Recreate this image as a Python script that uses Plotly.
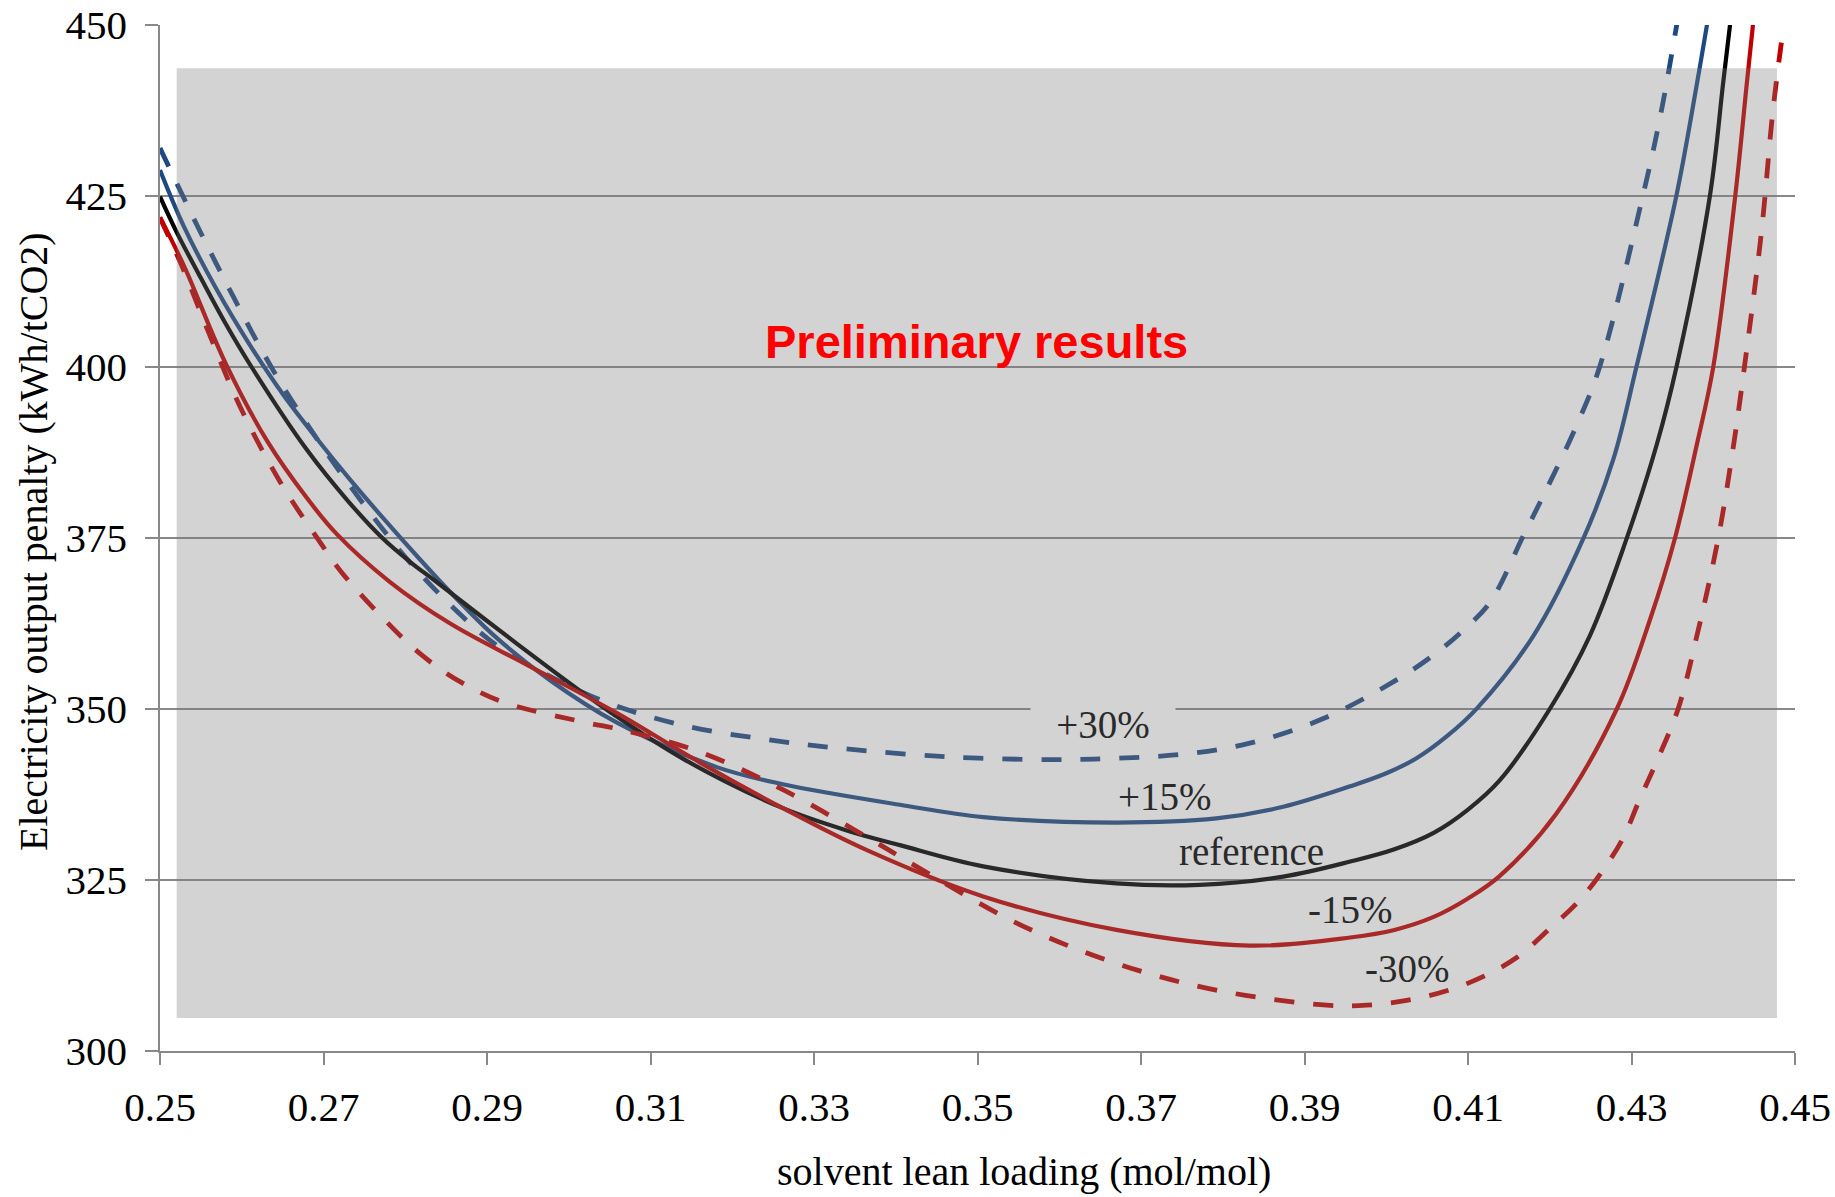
import plotly.graph_objects as go

# ---- data -------------------------------------------------------------
x_ticks = [0.25, 0.27, 0.29, 0.31, 0.33, 0.35, 0.37, 0.39, 0.41, 0.43, 0.45]
x_tick_labels = ["0.25", "0.27", "0.29", "0.31", "0.33", "0.35", "0.37", "0.39", "0.41", "0.43", "0.45"]
y_ticks = [300, 325, 350, 375, 400, 425, 450]

# reference case
ref_x = [0.2500, 0.2520, 0.2550, 0.2580, 0.2612, 0.2679, 0.2730, 0.2772, 0.2805, 0.2838,
         0.2936, 0.3018, 0.3050, 0.3140, 0.3262, 0.3344, 0.3405, 0.3507, 0.3670, 0.3772,
         0.3874, 0.3956, 0.4010, 0.4058, 0.4100, 0.4139, 0.4200, 0.4249, 0.4294, 0.4331,
         0.4355, 0.4396, 0.4412, 0.4421]
ref_y = [424.9, 419.8, 413.0, 406.4, 400.0, 388.0, 380.4, 375.0, 371.6, 368.6,
         359.6, 352.3, 349.6, 342.7, 335.5, 332.1, 330.1, 327.0, 324.5, 324.3,
         325.5, 327.7, 329.5, 331.9, 335.3, 339.6, 350.0, 360.7, 374.9, 388.7,
         400.0, 425.1, 441.4, 450.5]

# +15 %
p15_x = [0.2500, 0.2529, 0.2569, 0.2610, 0.2651, 0.2692, 0.2732, 0.2773, 0.2814, 0.2855,
         0.2908, 0.2977, 0.3059, 0.3181, 0.3262, 0.3405, 0.3507, 0.3670, 0.3792, 0.3874,
         0.3956, 0.4000, 0.4037, 0.4075, 0.4111, 0.4180, 0.4241, 0.4278, 0.4306, 0.4355,
         0.4380, 0.4393]
p15_y = [428.8, 420.6, 411.4, 403.2, 395.9, 389.5, 383.6, 377.9, 372.4, 367.1,
         360.8, 354.2, 348.0, 341.5, 339.0, 336.0, 334.2, 333.4, 334.0, 335.7,
         338.7, 340.6, 342.8, 346.1, 350.1, 360.7, 374.9, 386.6, 400.0, 425.1,
         441.4, 450.5]

# +30 %
p30_x = [0.2500, 0.2545, 0.2590, 0.2639, 0.2692, 0.2745, 0.2806, 0.2871, 0.2912, 0.2980,
         0.3050, 0.3140, 0.3238, 0.3336, 0.3466, 0.3589, 0.3670, 0.3752, 0.3833, 0.3923,
         0.4009, 0.4058, 0.4095, 0.4127, 0.4168, 0.4200, 0.4233, 0.4261, 0.4314, 0.4335,
         0.4356]
p30_y = [432.0, 420.8, 410.2, 399.4, 389.5, 380.6, 371.4, 363.4, 359.3, 354.6,
         350.8, 347.6, 345.6, 344.2, 343.0, 342.6, 342.8, 343.4, 345.0, 348.6,
         354.0, 357.9, 361.6, 365.6, 375.4, 383.1, 391.5, 400.0, 425.1, 436.5,
         450.5]

# -15 %
m15_x = [0.2500, 0.2530, 0.2580, 0.2631, 0.2680, 0.2716, 0.2781, 0.2855, 0.2953, 0.3059,
         0.3160, 0.3262, 0.3364, 0.3507, 0.3670, 0.3833, 0.3956, 0.4010, 0.4058, 0.4100,
         0.4139, 0.4208, 0.4282, 0.4323, 0.4353, 0.4380, 0.4400, 0.4427, 0.4441, 0.4449]
m15_y = [421.9, 414.6, 400.6, 389.2, 380.8, 375.6, 368.6, 362.5, 356.2, 349.4,
         342.2, 335.5, 329.4, 322.6, 317.7, 315.4, 316.6, 317.7, 319.6, 322.3,
         325.6, 334.7, 350.0, 363.2, 374.9, 388.7, 400.0, 425.1, 441.4, 450.5]

# -30 %
m30_x = [0.2500, 0.2526, 0.2559, 0.2598, 0.2647, 0.2698, 0.2722, 0.2775, 0.2820, 0.2867,
         0.2920, 0.3018, 0.3067, 0.3161, 0.3262, 0.3377, 0.3425, 0.3548, 0.3670, 0.3792,
         0.3927, 0.3976, 0.4025, 0.4074, 0.4119, 0.4160, 0.4200, 0.4237, 0.4266, 0.4290,
         0.4310, 0.4331, 0.4357, 0.4380, 0.4406, 0.4425, 0.4437, 0.4459, 0.4473, 0.4486]
m30_y = [421.8, 415.0, 405.2, 394.2, 383.2, 374.0, 370.0, 363.0, 357.9, 354.0,
         351.0, 348.1, 346.9, 343.7, 338.2, 330.4, 327.0, 318.7, 312.8, 308.9,
         306.7, 306.7, 307.4, 308.8, 310.9, 313.7, 317.9, 322.1, 326.6, 331.2,
         336.8, 342.4, 350.0, 360.7, 374.9, 388.7, 399.0, 419.8, 437.5, 449.8]

# curve labels: text, x, y
label_text = ["+30%", "+15%", "reference", "-15%", "-30%"]
label_x = [0.3653, 0.3729, 0.3835, 0.3956, 0.4025]
label_y = [347.8, 337.2, 329.1, 320.7, 312.0]

# ---- figure -----------------------------------------------------------
BLUE = "#1e4982"
RED = "#c00000"
BLACK = "#000000"
SERIF = "Liberation Serif"

fig = go.Figure()

series = [
    (p30_x, p30_y, BLUE, "20px,19px", 4.8),
    (p15_x, p15_y, BLUE, "solid", 4.2),
    (ref_x, ref_y, BLACK, "solid", 4.2),
    (m15_x, m15_y, RED, "solid", 4.2),
    (m30_x, m30_y, RED, "20px,19px", 4.8),
]
for xs, ys, col, dash, w in series:
    fig.add_trace(go.Scatter(
        x=xs, y=ys, mode="lines",
        line=dict(color=col, width=w, dash=dash, shape="spline", smoothing=1.0),
        showlegend=False, hoverinfo="skip",
    ))

# translucent grey panel laid over the plotting area
fig.add_shape(type="rect", xref="x", yref="y",
              x0=0.25204, x1=0.4478, y0=304.83, y1=443.66,
              fillcolor="rgba(123,123,123,0.333)", line=dict(width=0),
              layer="above")

for i, (t, lx, ly) in enumerate(zip(label_text, label_x, label_y)):
    extra = dict(bgcolor="#d3d3d3", width=142, borderpad=1) if i == 0 else {}
    fig.add_annotation(x=lx, y=ly, xref="x", yref="y", text=t, showarrow=False,
                       xanchor="center", yanchor="middle",
                       font=dict(family=SERIF, size=39, color="#2a2a2a"), **extra)

fig.add_annotation(x=0.3499, y=403.8, xref="x", yref="y", text="<b>Preliminary results</b>",
                   showarrow=False, xanchor="center", yanchor="middle",
                   font=dict(family="Liberation Sans", size=47, color="#ff0000"))

# axis titles
fig.add_annotation(x=0.5284, y=-0.117, xref="paper", yref="paper",
                   text="solvent lean loading (mol/mol)", showarrow=False,
                   xanchor="center", yanchor="middle",
                   font=dict(family=SERIF, size=40, color="black"))
fig.add_annotation(x=-0.0777, y=0.497, xref="paper", yref="paper",
                   text="Electricity output penalty (kWh/tCO2)", showarrow=False,
                   textangle=-90, xanchor="center", yanchor="middle",
                   font=dict(family=SERIF, size=40, color="black"))

AX = "#888888"
fig.update_layout(
    width=1835, height=1197,
    margin=dict(l=160, r=40, t=25, b=146),
    paper_bgcolor="white", plot_bgcolor="white",
    xaxis=dict(range=[0.25, 0.45], tickvals=x_ticks, ticktext=x_tick_labels,
               showgrid=False, zeroline=False, showline=True, linecolor=AX, linewidth=1.5,
               ticks="outside", ticklen=12, tickwidth=1.5, tickcolor=AX,
               tickfont=dict(family=SERIF, size=41, color="black"),
               ticklabelstandoff=7, automargin=False),
    yaxis=dict(range=[300, 450], tickvals=y_ticks,
               showgrid=True, gridcolor=AX, gridwidth=1.5, zeroline=False,
               showline=True, linecolor=AX, linewidth=1.5,
               ticks="outside", ticklen=13, tickwidth=1.5, tickcolor=AX,
               tickfont=dict(family=SERIF, size=41, color="black"),
               ticklabelstandoff=10, automargin=False),
)

fig.write_html("out.html")
